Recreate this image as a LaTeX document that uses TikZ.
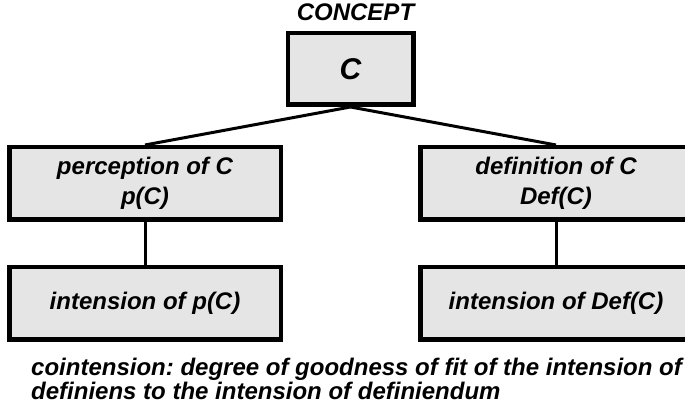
\documentclass[tikz,border=0pt]{standalone}
\usepackage{fontspec}
\setmainfont{Liberation Sans}
\definecolor{boxgray}{gray}{0.9}
\begin{document}
\frenchspacing
\begin{tikzpicture}[
	                      x = 1pt,
	                      y = 1pt,
	      every node/.style = {font=\fontsize{24}{30}\selectfont\bfseries\itshape, align=center, inner sep=0pt},
	             box/.style = {draw, line width=4.5pt, fill=boxgray, minimum width=271.5pt, minimum height=72.5pt},
	edge from parent/.style = {draw, line width=3pt},
	 edge from parent path = {(\tikzparentnode.south) -- (\tikzchildnode.north)},
	        level 1/.style = {level distance=114.5pt, sibling distance=411pt},
	        level 2/.style = {level distance=120pt},
	                     ]
		\useasboundingbox (0,0) rectangle (685,411);
		\node[box, minimum width=125.5pt, minimum height=71.5pt,
		      font=\fontsize{30}{36}\selectfont\bfseries\itshape,
		      label={[label distance=10pt, xshift=5pt]above:CONCEPT}] (concept) at (350.5,342) {C}
		    child {node[box] (perception) {perception of C\\p(C)}
		        child {node[box] (intperception) {intension of p(C)}}
		            }
		    child {node[box] (definition) {definition of C\\Def(C)}
		        child {node[box] (intdefinition) {intension of Def(C)}}
		            };
		\node[anchor=south west, align=left, font=\fontsize{24}{24}\selectfont\bfseries\itshape]
		    (cointension) at (31,11) {cointension: degree of goodness of fit of the intension of\\definiens to the intension of definiendum};
		\end{tikzpicture}
\end{document}
